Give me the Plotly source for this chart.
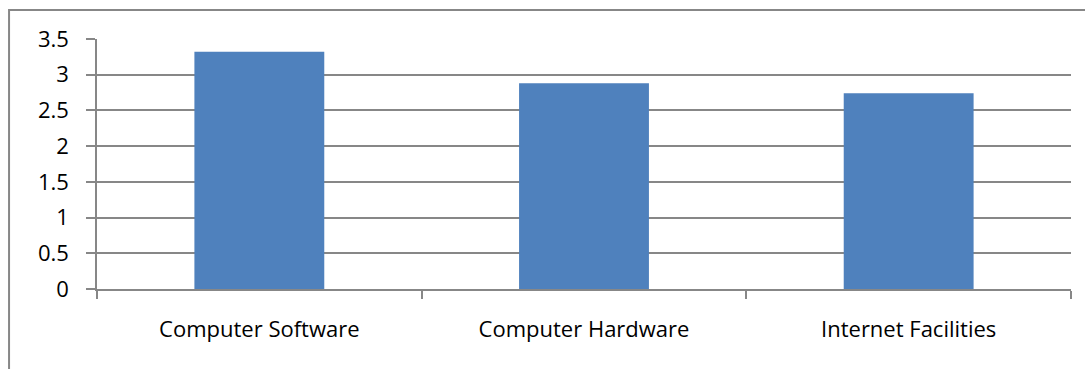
import plotly.graph_objects as go

categories = ["Computer Software", "Computer Hardware", "Internet Facilities"]
values = [3.32, 2.88, 2.74]
y_ticks = [0, 0.5, 1, 1.5, 2, 2.5, 3, 3.5]
y_tick_labels = ["0", "0.5", "1", "1.5", "2", "2.5", "3", "3.5"]

GRAY = "#878787"
FONT = "Open Sans"

fig = go.Figure()
fig.add_trace(go.Bar(
    x=categories, y=values,
    marker=dict(color="#4F81BD", line=dict(width=0)),
    width=0.4,
))

fig.update_layout(
    width=1085, height=369,
    margin=dict(l=97, r=14, t=39, b=80),
    paper_bgcolor="white", plot_bgcolor="white",
    showlegend=False,
    font=dict(family=FONT, size=22, color="black"),
    xaxis=dict(
        type="category",
        showline=True, linecolor=GRAY, linewidth=1.5,
        ticks="outside", tickson="boundaries", ticklen=8, tickwidth=1.5, tickcolor=GRAY,
        showgrid=False, zeroline=False,
        tickfont=dict(family=FONT, size=22, color="black"),
        ticklabelstandoff=20,
    ),
    yaxis=dict(
        range=[0, 3.5],
        tickvals=y_ticks, ticktext=y_tick_labels,
        showline=True, linecolor=GRAY, linewidth=1.5,
        ticks="outside", ticklen=9, tickwidth=1.5, tickcolor=GRAY,
        showgrid=True, gridcolor=GRAY, gridwidth=1.5,
        zeroline=False,
        tickfont=dict(family=FONT, size=22, color="black"),
        ticklabelstandoff=13,
    ),
    shapes=[dict(
        type="rect", xref="paper", yref="paper",
        x0=-0.0903, x1=1.2, y0=-0.6, y1=1.116,
        line=dict(color=GRAY, width=2), fillcolor="rgba(0,0,0,0)",
        layer="above",
    )],
)

fig.write_html("out.html")
